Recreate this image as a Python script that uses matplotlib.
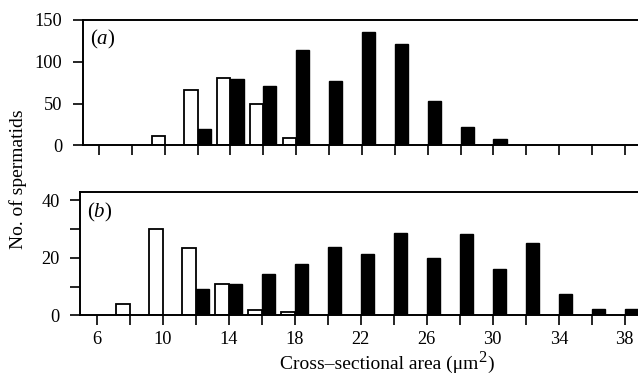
import matplotlib
matplotlib.use("Agg")
import matplotlib.pyplot as plt
from matplotlib.ticker import MultipleLocator, NullFormatter

plt.rcParams['font.family'] = ['Liberation Serif', 'DejaVu Serif']
plt.rcParams['mathtext.fontset'] = 'custom'
plt.rcParams['mathtext.rm'] = 'Liberation Serif'
plt.rcParams['mathtext.it'] = 'Liberation Serif:italic'

# Panel (a)
a_open_x = [10, 12, 14, 16, 18]
a_open_y = [11, 66, 81, 50, 9]
a_fill_x = [12, 14, 16, 18, 20, 22, 24, 26, 28, 30]
a_fill_y = [20, 79, 71, 114, 77, 136, 121, 53, 22, 7]

# Panel (b)
b_open_x = [8, 10, 12, 14, 16, 18]
b_open_y = [4, 30, 23.5, 11, 2, 1]
b_fill_x = [12, 14, 16, 18, 20, 22, 24, 26, 28, 30, 32, 34, 36, 38]
b_fill_y = [9, 11, 14.2, 18, 23.6, 21.2, 28.8, 20, 28.2, 16.2, 25, 7.4, 2.2, 2.2]

x_ticklabels = ['6', '10', '14', '18', '22', '26', '30', '34', '38']

W = 638
H = 385
fig = plt.figure(figsize=(W / 100, H / 100), dpi=100)

def frac_axes(l, t, r, b):
    return fig.add_axes([l / W, 1 - b / H, (r - l) / W, (b - t) / H])

ax1 = frac_axes(82.5, 20, 638, 145.3)
ax2 = frac_axes(80, 191.7, 638, 315.3)

bw = 0.8
lw = 1.4

def style(ax):
    for s in ['left', 'top', 'bottom']:
        ax.spines[s].set_linewidth(lw)
    ax.spines['right'].set_visible(False)
    ax.tick_params(which='both', direction='out', length=7.5, width=1.2,
                   labelsize=13.2)
    ax.tick_params(axis='y', which='both', pad=7)
    ax.tick_params(axis='x', which='both', pad=4)
    ax.set_xlim(5, 38.8)

for ax, ox, oy, fx, fy in [(ax1, a_open_x, a_open_y, a_fill_x, a_fill_y),
                           (ax2, b_open_x, b_open_y, b_fill_x, b_fill_y)]:
    ax.bar(ox, oy, width=-bw, align='edge', facecolor='white',
           edgecolor='black', linewidth=1.3, zorder=2)
    ax.bar(fx, fy, width=bw, align='edge', facecolor='black',
           edgecolor='black', linewidth=1.0, zorder=2)
    style(ax)

ax1.set_ylim(0, 150)
ax1.yaxis.set_major_locator(MultipleLocator(50))
ax1.set_xticks([6 + 2 * i for i in range(17)])
ax1.xaxis.set_major_formatter(NullFormatter())

ax2.set_ylim(0, 43)
ax2.set_yticks([0, 20, 40])
ax2.set_yticks([10, 30], minor=True)
ax2.set_xticks([6 + 4 * i for i in range(9)])
ax2.set_xticklabels(x_ticklabels)
ax2.set_xticks([8 + 4 * i for i in range(8)], minor=True)

fig.text(90 / W, 1 - 39 / H, '($\\it{a}$)', fontsize=15, ha='left', va='center')
fig.text(87 / W, 1 - 212 / H, '($\\it{b}$)', fontsize=15, ha='left', va='center')

fig.text(18 / W, 1 - 179 / H, 'No. of spermatids', rotation=90,
         fontsize=14, ha='center', va='center')

# x label with a large superscript 2
xl_size = 14
main = fig.text(280 / W, 1 - 369 / H, 'Cross\u2013sectional area (\u03bcm',
                fontsize=xl_size, ha='left', va='baseline')
renderer = fig.canvas.get_renderer()
bb = main.get_window_extent(renderer)
sup = fig.text((bb.x1 - 0.5) / W, 1 - 362 / H, '2', fontsize=12,
               ha='left', va='baseline')
bb2 = sup.get_window_extent(renderer)
fig.text((bb2.x1 + 1.0) / W, 1 - 369 / H, ')', fontsize=xl_size, ha='left',
         va='baseline')

fig.savefig('out.png', dpi=100)
